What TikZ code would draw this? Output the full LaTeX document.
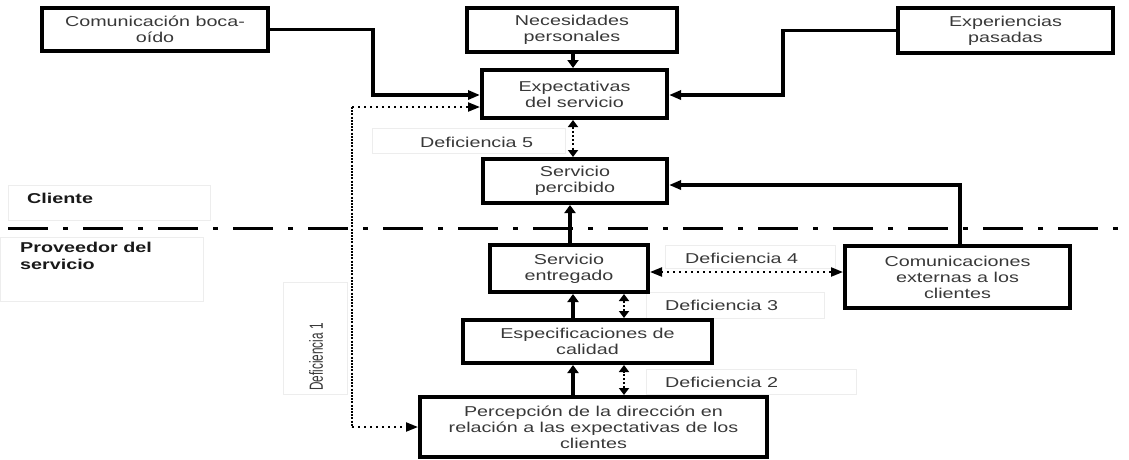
\documentclass[tikz,border=0pt]{standalone}
\usepackage{fontspec}
\setmainfont{Liberation Sans}[FakeStretch=1.38]
\newfontfamily\condfont{Liberation Sans}[FakeStretch=0.62]
\usetikzlibrary{arrows.meta}
\begin{document}
\begin{tikzpicture}[x=1pt,y=-1pt,
  txt/.style={text=black!78, font=\fontsize{14.3}{16}\selectfont, inner sep=0pt},
  box/.style={txt, draw=black, line width=4pt, align=center},
  faint/.style={draw=black!7, line width=0.8pt},
  conn/.style={line width=3.3pt, -{Triangle[length=12pt,width=9pt]}},
  vconn/.style={line width=3.6pt, -{Triangle[length=8pt,width=11pt]}},
  vdots/.style={line width=2.4pt, dash pattern=on 2pt off 2.2pt, {Triangle[length=7pt,width=10pt]}-{Triangle[length=7pt,width=10pt]}},
  hdots/.style={line width=2.2pt, dash pattern=on 2pt off 4pt},
  vdense/.style={line width=2.6pt, dash pattern=on 2pt off 1.2pt},
  htip/.style={-{Triangle[length=12pt,width=9pt]}},
  sepline/.style={line width=3pt, dash pattern=on 40pt off 15pt on 5pt off 15pt}
]
\useasboundingbox (0,0) rectangle (1129,459);

% faint label frames
\draw[faint] (8,185) rectangle (210,220);
\draw[faint] (0,237) rectangle (203,301);
\draw[faint] (283,282) rectangle (347,394);
\draw[faint] (372,128) rectangle (565,153);
\draw[faint] (665,245) rectangle (835,268);
\draw[faint] (646,292) rectangle (824,318);
\draw[faint] (646,369) rectangle (856,394);

% separator
\coordinate (sepL) at (8,228);
\coordinate (sepR) at (1129,228);
\draw[sepline] (sepL) -- (sepR);

% boxes
\node[box, minimum width=226pt, minimum height=43pt] (boca) at (155,29.5) {Comunicación boca-\\oído};
\node[box, minimum width=210pt, minimum height=44pt] (nec) at (572,30) {Necesidades\\personales};
\node[box, minimum width=215pt, minimum height=45pt] (pas) at (1005.5,30.5) {Experiencias\\pasadas};
\node[box, minimum width=185pt, minimum height=48pt] (exp) at (574.5,94) {Expectativas\\del servicio};
\node[box, minimum width=184pt, minimum height=44pt] (perc) at (575,181) {Servicio\\percibido};
\node[box, minimum width=158pt, minimum height=47pt] (ent) at (569,268.5) {Servicio\\entregado};
\node[box, minimum width=225pt, minimum height=62pt] (ext) at (957.5,277) {Comunicaciones\\externas a los\\clientes};
\node[box, minimum width=249pt, minimum height=43pt] (esp) at (587.5,341.5) {Especificaciones de\\calidad};
\node[box, minimum width=347pt, minimum height=60pt] (dir) at (593.5,427) {Percepción de la dirección en\\relación a las expectativas de los\\clientes};

% labels
\node[txt, anchor=west] (d5) at (420,142) {Deficiencia 5};
\node[txt, anchor=west] (d4) at (685,258) {Deficiencia 4};
\node[txt, anchor=west] (d3) at (665,305) {Deficiencia 3};
\node[txt, anchor=west] (d2) at (665,382) {Deficiencia 2};
\node[txt, rotate=90, font=\condfont\fontsize{19}{21}\selectfont] (d1) at (316,357) {Deficiencia 1};
\node[txt, anchor=west, text=black!90, font=\fontsize{14.3}{16}\selectfont\bfseries] (cli) at (27,198) {Cliente};
\node[txt, anchor=north west, align=left, text=black!90, font=\fontsize{14.3}{17}\selectfont\bfseries] (prov) at (20,242) {Proveedor del\\servicio};

% connectors
\draw[conn] (boca.east) -| (373,95) -- (exp.west |- 0,95);
\draw[conn] (pas.west) -| (783,95) -- (exp.east |- 0,95);
\draw[vconn] (nec.south -| 573,0) -- (exp.north -| 573,0);
\draw[vdots] (exp.south -| 573,0) -- (perc.north -| 573,0);
\draw[conn] (ext.north -| 960,0) -- (960,185) -- (perc.east |- 0,185);
\draw[vconn] (ent.north -| 570,0) -- (perc.south -| 570,0);
\draw[hdots, {Triangle[length=12pt,width=9pt]}-{Triangle[length=12pt,width=9pt]}] (ent.east |- 0,272) -- (ext.west |- 0,272);
\draw[vconn] (esp.north -| 573,0) -- (ent.south -| 573,0);
\draw[vdots] (esp.north -| 624,0) -- (ent.south -| 624,0);
\draw[vconn] (dir.north -| 573,0) -- (esp.south -| 573,0);
\draw[vdots] (dir.north -| 624,0) -- (esp.south -| 624,0);
% Deficiencia 1 loop
\coordinate (c1) at (352,107);
\coordinate (c2) at (352,427);
\draw[hdots, htip] (c1) -- (exp.west |- c1);
\draw[vdense] (c1) -- (c2);
\draw[hdots, htip] (c2) -- (dir.west |- c2);
\end{tikzpicture}
\end{document}
